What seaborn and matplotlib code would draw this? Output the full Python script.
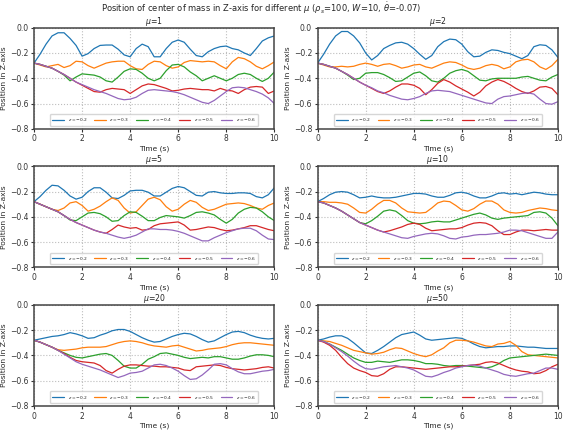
import numpy as np
import pandas as pd
import matplotlib
matplotlib.use("Agg")
import matplotlib.pyplot as plt
import seaborn as sns

time_s = [i * 0.25 for i in range(41)]
z_labels = ["$z=-0.2$", "$z=-0.3$", "$z=-0.4$", "$z=-0.5$", "$z=-0.6$"]
mu_values = [1, 2, 5, 10, 20, 50]

# ---- mu = 1 ----
mu1_z02 = [-0.28,-0.21,-0.13,-0.065,-0.04,-0.04,-0.085,-0.14,-0.225,-0.205,-0.165,-0.14,-0.137,-0.137,-0.17,-0.215,-0.23,-0.165,-0.13,-0.15,-0.23,-0.23,-0.165,-0.115,-0.097,-0.115,-0.17,-0.22,-0.23,-0.19,-0.165,-0.15,-0.145,-0.165,-0.175,-0.2,-0.22,-0.165,-0.105,-0.08,-0.065]
mu1_z03 = [-0.28,-0.295,-0.31,-0.30,-0.29,-0.315,-0.30,-0.265,-0.27,-0.30,-0.32,-0.30,-0.28,-0.27,-0.265,-0.265,-0.30,-0.325,-0.33,-0.29,-0.265,-0.27,-0.30,-0.32,-0.31,-0.275,-0.26,-0.265,-0.27,-0.265,-0.27,-0.30,-0.325,-0.27,-0.235,-0.245,-0.27,-0.305,-0.325,-0.30,-0.27]
mu1_z04 = [-0.28,-0.29,-0.305,-0.32,-0.345,-0.375,-0.42,-0.39,-0.365,-0.37,-0.375,-0.39,-0.42,-0.43,-0.39,-0.345,-0.325,-0.33,-0.36,-0.40,-0.42,-0.40,-0.34,-0.295,-0.29,-0.31,-0.35,-0.38,-0.42,-0.40,-0.38,-0.40,-0.42,-0.40,-0.37,-0.36,-0.37,-0.40,-0.425,-0.40,-0.35]
mu1_z05 = [-0.28,-0.29,-0.305,-0.32,-0.345,-0.37,-0.40,-0.43,-0.455,-0.48,-0.505,-0.51,-0.49,-0.48,-0.485,-0.49,-0.52,-0.49,-0.46,-0.445,-0.45,-0.465,-0.48,-0.50,-0.495,-0.485,-0.48,-0.485,-0.49,-0.49,-0.50,-0.48,-0.495,-0.50,-0.52,-0.49,-0.47,-0.465,-0.47,-0.52,-0.50]
mu1_z06 = [-0.28,-0.29,-0.305,-0.32,-0.345,-0.37,-0.40,-0.43,-0.45,-0.47,-0.49,-0.505,-0.52,-0.54,-0.56,-0.57,-0.565,-0.55,-0.52,-0.495,-0.49,-0.495,-0.50,-0.505,-0.515,-0.53,-0.55,-0.57,-0.59,-0.60,-0.575,-0.54,-0.505,-0.475,-0.47,-0.475,-0.49,-0.505,-0.525,-0.555,-0.60]

# ---- mu = 2 ----
mu2_z02 = [-0.28,-0.21,-0.13,-0.065,-0.03,-0.03,-0.065,-0.12,-0.2,-0.255,-0.22,-0.165,-0.14,-0.12,-0.115,-0.13,-0.165,-0.21,-0.25,-0.22,-0.15,-0.11,-0.09,-0.095,-0.13,-0.19,-0.23,-0.225,-0.195,-0.175,-0.18,-0.195,-0.205,-0.225,-0.245,-0.22,-0.15,-0.135,-0.14,-0.175,-0.235]
mu2_z03 = [-0.28,-0.295,-0.31,-0.31,-0.305,-0.31,-0.305,-0.29,-0.28,-0.29,-0.305,-0.29,-0.285,-0.30,-0.32,-0.31,-0.295,-0.29,-0.31,-0.32,-0.30,-0.28,-0.27,-0.275,-0.295,-0.32,-0.33,-0.32,-0.30,-0.29,-0.30,-0.325,-0.31,-0.27,-0.255,-0.25,-0.27,-0.31,-0.33,-0.30,-0.25]
mu2_z04 = [-0.28,-0.29,-0.305,-0.32,-0.345,-0.375,-0.41,-0.40,-0.36,-0.355,-0.355,-0.37,-0.395,-0.425,-0.42,-0.39,-0.36,-0.35,-0.38,-0.42,-0.43,-0.40,-0.36,-0.34,-0.33,-0.345,-0.38,-0.415,-0.42,-0.405,-0.40,-0.40,-0.40,-0.40,-0.39,-0.385,-0.40,-0.415,-0.42,-0.39,-0.37]
mu2_z05 = [-0.28,-0.29,-0.305,-0.32,-0.345,-0.37,-0.40,-0.43,-0.455,-0.48,-0.505,-0.52,-0.50,-0.47,-0.445,-0.445,-0.455,-0.48,-0.53,-0.49,-0.44,-0.41,-0.43,-0.46,-0.485,-0.51,-0.54,-0.51,-0.46,-0.43,-0.41,-0.425,-0.45,-0.48,-0.505,-0.52,-0.50,-0.47,-0.465,-0.48,-0.53]
mu2_z06 = [-0.28,-0.29,-0.305,-0.32,-0.345,-0.37,-0.40,-0.43,-0.455,-0.475,-0.50,-0.515,-0.535,-0.55,-0.565,-0.57,-0.56,-0.545,-0.52,-0.50,-0.495,-0.50,-0.505,-0.52,-0.535,-0.55,-0.565,-0.58,-0.595,-0.60,-0.565,-0.545,-0.54,-0.53,-0.52,-0.515,-0.525,-0.565,-0.60,-0.605,-0.585]

# ---- mu = 5 ----
mu5_z02 = [-0.28,-0.24,-0.19,-0.15,-0.155,-0.19,-0.235,-0.26,-0.245,-0.2,-0.17,-0.17,-0.205,-0.25,-0.255,-0.23,-0.195,-0.19,-0.19,-0.205,-0.235,-0.235,-0.205,-0.175,-0.16,-0.17,-0.2,-0.23,-0.235,-0.205,-0.2,-0.21,-0.215,-0.215,-0.21,-0.21,-0.215,-0.24,-0.25,-0.225,-0.17]
mu5_z03 = [-0.28,-0.30,-0.32,-0.34,-0.35,-0.33,-0.29,-0.28,-0.31,-0.355,-0.34,-0.315,-0.28,-0.25,-0.27,-0.33,-0.37,-0.36,-0.31,-0.26,-0.245,-0.265,-0.32,-0.355,-0.34,-0.30,-0.27,-0.285,-0.325,-0.35,-0.34,-0.32,-0.30,-0.295,-0.29,-0.295,-0.31,-0.33,-0.34,-0.31,-0.29]
mu5_z04 = [-0.28,-0.30,-0.32,-0.34,-0.36,-0.39,-0.425,-0.43,-0.40,-0.37,-0.365,-0.375,-0.40,-0.435,-0.43,-0.39,-0.36,-0.365,-0.395,-0.43,-0.43,-0.405,-0.39,-0.395,-0.40,-0.41,-0.39,-0.365,-0.36,-0.37,-0.385,-0.42,-0.45,-0.42,-0.37,-0.34,-0.325,-0.33,-0.36,-0.40,-0.43]
mu5_z05 = [-0.28,-0.30,-0.32,-0.34,-0.36,-0.39,-0.42,-0.445,-0.465,-0.485,-0.505,-0.52,-0.53,-0.50,-0.465,-0.48,-0.49,-0.485,-0.505,-0.50,-0.47,-0.455,-0.45,-0.445,-0.44,-0.465,-0.505,-0.50,-0.49,-0.48,-0.485,-0.50,-0.51,-0.505,-0.495,-0.485,-0.47,-0.47,-0.485,-0.50,-0.51]
mu5_z06 = [-0.28,-0.30,-0.32,-0.34,-0.36,-0.39,-0.42,-0.445,-0.465,-0.485,-0.505,-0.52,-0.53,-0.545,-0.56,-0.57,-0.56,-0.545,-0.52,-0.495,-0.495,-0.50,-0.50,-0.505,-0.515,-0.53,-0.55,-0.57,-0.59,-0.59,-0.565,-0.545,-0.525,-0.51,-0.495,-0.49,-0.49,-0.51,-0.545,-0.575,-0.58]

# ---- mu = 10 ----
mu10_z02 = [-0.28,-0.255,-0.225,-0.205,-0.2,-0.205,-0.225,-0.25,-0.245,-0.235,-0.245,-0.25,-0.25,-0.245,-0.235,-0.225,-0.215,-0.215,-0.22,-0.235,-0.245,-0.245,-0.23,-0.21,-0.205,-0.215,-0.235,-0.25,-0.25,-0.235,-0.215,-0.21,-0.22,-0.215,-0.225,-0.215,-0.205,-0.21,-0.22,-0.225,-0.225]
mu10_z03 = [-0.28,-0.28,-0.285,-0.285,-0.29,-0.30,-0.33,-0.365,-0.37,-0.34,-0.30,-0.27,-0.27,-0.29,-0.33,-0.36,-0.365,-0.37,-0.365,-0.33,-0.29,-0.275,-0.28,-0.31,-0.345,-0.355,-0.335,-0.30,-0.275,-0.275,-0.30,-0.345,-0.365,-0.37,-0.365,-0.35,-0.34,-0.33,-0.335,-0.345,-0.35]
mu10_z04 = [-0.28,-0.29,-0.31,-0.33,-0.355,-0.385,-0.415,-0.445,-0.455,-0.43,-0.395,-0.355,-0.345,-0.355,-0.39,-0.43,-0.45,-0.455,-0.45,-0.44,-0.435,-0.44,-0.44,-0.425,-0.41,-0.395,-0.38,-0.37,-0.385,-0.41,-0.42,-0.41,-0.405,-0.40,-0.395,-0.39,-0.365,-0.36,-0.37,-0.41,-0.47]
mu10_z05 = [-0.28,-0.29,-0.31,-0.33,-0.355,-0.385,-0.415,-0.445,-0.465,-0.485,-0.505,-0.52,-0.51,-0.495,-0.48,-0.46,-0.45,-0.46,-0.49,-0.51,-0.505,-0.50,-0.495,-0.495,-0.485,-0.465,-0.45,-0.445,-0.45,-0.47,-0.51,-0.54,-0.54,-0.52,-0.505,-0.505,-0.51,-0.505,-0.50,-0.505,-0.505]
mu10_z06 = [-0.28,-0.29,-0.31,-0.33,-0.355,-0.385,-0.415,-0.445,-0.465,-0.485,-0.505,-0.52,-0.535,-0.55,-0.565,-0.57,-0.555,-0.545,-0.535,-0.53,-0.535,-0.55,-0.57,-0.575,-0.56,-0.555,-0.545,-0.54,-0.54,-0.535,-0.53,-0.52,-0.505,-0.505,-0.51,-0.525,-0.54,-0.555,-0.57,-0.57,-0.52]

# ---- mu = 20 ----
mu20_z02 = [-0.28,-0.27,-0.26,-0.25,-0.245,-0.235,-0.22,-0.23,-0.245,-0.265,-0.26,-0.24,-0.225,-0.205,-0.195,-0.195,-0.21,-0.235,-0.26,-0.28,-0.295,-0.29,-0.27,-0.25,-0.235,-0.225,-0.23,-0.25,-0.275,-0.295,-0.285,-0.26,-0.235,-0.215,-0.21,-0.22,-0.24,-0.255,-0.265,-0.27,-0.265]
mu20_z03 = [-0.28,-0.295,-0.315,-0.335,-0.355,-0.36,-0.355,-0.35,-0.34,-0.335,-0.335,-0.335,-0.33,-0.315,-0.30,-0.29,-0.285,-0.29,-0.30,-0.315,-0.325,-0.33,-0.335,-0.325,-0.32,-0.335,-0.35,-0.365,-0.36,-0.35,-0.345,-0.34,-0.33,-0.315,-0.305,-0.30,-0.30,-0.305,-0.31,-0.315,-0.32]
mu20_z04 = [-0.28,-0.295,-0.315,-0.335,-0.36,-0.38,-0.40,-0.415,-0.42,-0.41,-0.40,-0.39,-0.385,-0.40,-0.44,-0.485,-0.50,-0.50,-0.47,-0.43,-0.41,-0.385,-0.38,-0.39,-0.40,-0.415,-0.425,-0.42,-0.415,-0.42,-0.41,-0.41,-0.42,-0.43,-0.43,-0.42,-0.405,-0.395,-0.395,-0.40,-0.41]
mu20_z05 = [-0.28,-0.295,-0.315,-0.335,-0.36,-0.385,-0.415,-0.44,-0.45,-0.455,-0.46,-0.48,-0.52,-0.54,-0.51,-0.485,-0.475,-0.475,-0.48,-0.485,-0.485,-0.49,-0.49,-0.495,-0.50,-0.515,-0.52,-0.49,-0.485,-0.48,-0.475,-0.48,-0.495,-0.505,-0.51,-0.515,-0.51,-0.505,-0.495,-0.49,-0.50]
mu20_z06 = [-0.28,-0.295,-0.315,-0.335,-0.36,-0.39,-0.42,-0.45,-0.47,-0.485,-0.50,-0.515,-0.535,-0.555,-0.575,-0.56,-0.54,-0.535,-0.525,-0.50,-0.475,-0.47,-0.48,-0.50,-0.525,-0.56,-0.59,-0.585,-0.555,-0.515,-0.47,-0.465,-0.475,-0.505,-0.53,-0.545,-0.545,-0.535,-0.525,-0.52,-0.51]

# ---- mu = 50 ----
mu50_z02 = [-0.28,-0.27,-0.255,-0.245,-0.245,-0.265,-0.30,-0.34,-0.38,-0.385,-0.36,-0.33,-0.295,-0.26,-0.235,-0.225,-0.215,-0.24,-0.27,-0.28,-0.275,-0.27,-0.265,-0.26,-0.265,-0.285,-0.31,-0.33,-0.34,-0.335,-0.33,-0.33,-0.325,-0.325,-0.33,-0.335,-0.335,-0.34,-0.345,-0.345,-0.345]
mu50_z03 = [-0.28,-0.285,-0.29,-0.305,-0.32,-0.34,-0.36,-0.37,-0.38,-0.39,-0.385,-0.375,-0.355,-0.34,-0.345,-0.365,-0.385,-0.40,-0.41,-0.395,-0.365,-0.34,-0.30,-0.28,-0.28,-0.285,-0.295,-0.31,-0.325,-0.33,-0.31,-0.305,-0.29,-0.32,-0.37,-0.395,-0.40,-0.405,-0.41,-0.415,-0.42]
mu50_z04 = [-0.28,-0.29,-0.31,-0.335,-0.36,-0.39,-0.42,-0.44,-0.455,-0.455,-0.445,-0.45,-0.455,-0.445,-0.435,-0.435,-0.44,-0.45,-0.465,-0.465,-0.47,-0.48,-0.485,-0.48,-0.48,-0.485,-0.49,-0.495,-0.50,-0.49,-0.47,-0.44,-0.42,-0.415,-0.41,-0.405,-0.40,-0.395,-0.39,-0.395,-0.40]
mu50_z05 = [-0.28,-0.295,-0.32,-0.36,-0.415,-0.465,-0.50,-0.52,-0.535,-0.56,-0.565,-0.545,-0.51,-0.49,-0.49,-0.495,-0.50,-0.505,-0.51,-0.505,-0.50,-0.495,-0.49,-0.49,-0.485,-0.48,-0.475,-0.47,-0.455,-0.45,-0.46,-0.48,-0.50,-0.515,-0.525,-0.53,-0.545,-0.54,-0.52,-0.49,-0.47]
mu50_z06 = [-0.28,-0.29,-0.31,-0.34,-0.37,-0.405,-0.445,-0.48,-0.505,-0.51,-0.50,-0.49,-0.485,-0.48,-0.49,-0.50,-0.515,-0.54,-0.565,-0.57,-0.555,-0.535,-0.52,-0.50,-0.49,-0.48,-0.475,-0.485,-0.50,-0.515,-0.53,-0.55,-0.56,-0.565,-0.555,-0.545,-0.54,-0.52,-0.50,-0.50,-0.51]

panels = [
    [mu1_z02, mu1_z03, mu1_z04, mu1_z05, mu1_z06],
    [mu2_z02, mu2_z03, mu2_z04, mu2_z05, mu2_z06],
    [mu5_z02, mu5_z03, mu5_z04, mu5_z05, mu5_z06],
    [mu10_z02, mu10_z03, mu10_z04, mu10_z05, mu10_z06],
    [mu20_z02, mu20_z03, mu20_z04, mu20_z05, mu20_z06],
    [mu50_z02, mu50_z03, mu50_z04, mu50_z05, mu50_z06],
]

sns.set_theme(style="whitegrid", rc={
    "grid.linestyle": ":", "grid.color": "#bdbdbd", "grid.linewidth": 0.8,
    "axes.edgecolor": "#444444", "axes.linewidth": 1.1,
    "xtick.bottom": True, "ytick.left": True,
    "xtick.color": "#333333", "ytick.color": "#333333",
    "xtick.major.size": 2.5, "ytick.major.size": 2.5,
    "xtick.major.width": 0.8, "ytick.major.width": 0.8,
})
plt.rcParams['font.family'] = ['DejaVu Sans']

palette = sns.color_palette("tab10", 5)

fig, axes = plt.subplots(3, 2, figsize=(5.67, 4.33), dpi=100)
fig.subplots_adjust(left=0.060, right=0.984, top=0.936, bottom=0.0624,
                    hspace=0.37, wspace=0.18)

for ax, mu, series in zip(axes.flat, mu_values, panels):
    rows = []
    for lab, vals in zip(z_labels, series):
        for t, v in zip(time_s, vals):
            rows.append((t, v, lab))
    df = pd.DataFrame(rows, columns=["t", "z", "label"])
    sns.lineplot(data=df, x="t", y="z", hue="label", hue_order=z_labels,
                 palette=palette, linewidth=0.9, ax=ax)
    ax.set_xlim(0, 10)
    ax.set_ylim(-0.8, 0.0)
    ax.set_xticks([0, 2, 4, 6, 8, 10])
    ax.set_yticks([-0.8, -0.6, -0.4, -0.2, 0.0])
    ax.tick_params(labelsize=5.5, pad=1.5)
    ax.set_xlabel("Time (s)", fontsize=5.4, labelpad=1.5)
    ax.set_ylabel("Position in Z-axis", fontsize=5.4, labelpad=2)
    ax.set_title(f"$\\mu$={mu}", fontsize=5.6, pad=0.8)
    ax.legend(loc="lower center", ncol=5, fontsize=3.2, frameon=True,
              handlelength=2.6, columnspacing=1.6, borderpad=0.5,
              bbox_to_anchor=(0.5, 0.01))

fig.suptitle(r"Position of center of mass in Z-axis for different $\mu$ ($\rho_s$=100, $W$=10, $\dot{\theta}$=-0.07)",
             fontsize=6.0, x=0.46, y=1.0, va="top")

fig.savefig("out.png", dpi=100)
